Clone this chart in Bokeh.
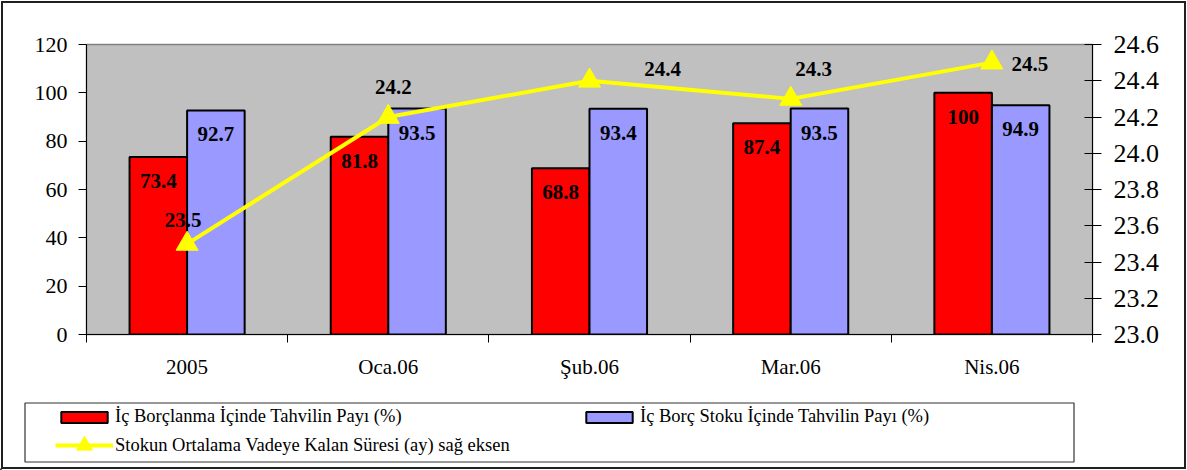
import numpy as np
from bokeh.plotting import figure
from bokeh.layouts import column
from bokeh.models import (Range1d, LinearAxis, FixedTicker, NumeralTickFormatter,
                          Legend, LegendItem, BoxAnnotation, ColumnDataSource)
from bokeh.core.properties import value
from bokeh.embed import file_html
from bokeh.resources import INLINE

# ---------------- data ----------------
categories = ["2005", "Oca.06", "Şub.06", "Mar.06", "Nis.06"]
ic_borclanma_payi = [73.4, 81.8, 68.8, 87.4, 100]
ic_borc_stoku_payi = [92.7, 93.5, 93.4, 93.5, 94.9]
kalan_sure = [23.5, 24.2, 24.4, 24.3, 24.5]
series_names = ["İç Borçlanma İçinde Tahvilin Payı (%)",
                "İç Borç Stoku İçinde Tahvilin Payı (%)",
                "Stokun Ortalama Vadeye Kalan Süresi (ay) sağ eksen"]
left_ticks = [0, 20, 40, 60, 80, 100, 120]
right_ticks = [23.0, 23.2, 23.4, 23.6, 23.8, 24.0, 24.2, 24.4, 24.6]

# label placement (pixel offsets) for the line's data labels
line_label_dx = [-4, 5, 73, 23, 38]
line_label_dy = [-24, -30, -12, -30, 1]

FONT = value("Liberation Serif")
BAR_W = 0.286
RED, BLUE, YELLOW = "#FF0000", "#9999FF", "#FFFF00"

W = 1187
H_MAIN, H_LEG = 388, 82

p = figure(width=W, height=H_MAIN, x_range=Range1d(0, len(categories)), y_range=Range1d(0, 120),
           output_backend="svg", toolbar_location=None, frame_align=False,
           min_border_left=86, min_border_right=95, min_border_top=44, min_border_bottom=54,
           background_fill_color="#C0C0C0", border_fill_color=None,
           outline_line_color="#808080", outline_line_width=1.5)
p.xgrid.visible = False
p.ygrid.visible = False
p.extra_y_ranges = {"right": Range1d(right_ticks[0], right_ticks[-1])}

centers = np.arange(len(categories)) + 0.5

src = ColumnDataSource(dict(
    xc=centers,
    xr=centers - BAR_W / 2,
    xb=centers + BAR_W / 2,
    red=ic_borclanma_payi,
    blue=ic_borc_stoku_payi,
    line=kalan_sure,
    red_txt=[f"{v:g}" for v in ic_borclanma_payi],
    blue_txt=[f"{v:g}" for v in ic_borc_stoku_payi],
    line_txt=[f"{v:.1f}" for v in kalan_sure],
    dx=line_label_dx,
    dy=line_label_dy,
))

p.vbar(x="xr", top="red", width=BAR_W, source=src,
       fill_color=RED, line_color="black", line_width=2)
p.vbar(x="xb", top="blue", width=BAR_W, source=src,
       fill_color=BLUE, line_color="black", line_width=2)

lbl = dict(text_font=FONT, text_font_style="bold", text_font_size="21px",
           text_align="center", text_baseline="middle", text_color="black")
p.text(x="xr", y="red", text="red_txt", source=src, y_offset=24, **lbl)
p.text(x="xb", y="blue", text="blue_txt", source=src, y_offset=24, **lbl)

p.line(x="xc", y="line", source=src, y_range_name="right",
       line_color=YELLOW, line_width=4)
p.scatter(x="xc", y="line", source=src, y_range_name="right",
          marker="triangle", size=22, fill_color=YELLOW, line_color=YELLOW)
p.text(x="xc", y="line", text="line_txt", source=src, y_range_name="right",
       x_offset="dx", y_offset="dy", **lbl)

# ---------------- axes ----------------
xa = p.xaxis[0]
xa.ticker = FixedTicker(ticks=list(centers), minor_ticks=list(range(len(categories) + 1)))
xa.major_label_overrides = {float(c): lab for c, lab in zip(centers, categories)}
xa.major_tick_in = 0
xa.major_tick_out = 0
xa.minor_tick_in = 0
xa.minor_tick_out = 8
xa.minor_tick_line_color = "black"
xa.axis_line_color = "black"
xa.major_label_standoff = 12
xa.major_label_text_font = "Liberation Serif"
xa.major_label_text_font_size = "21px"
xa.major_label_text_color = "black"

ya = p.yaxis[0]
ya.ticker = FixedTicker(ticks=left_ticks)
ya.major_tick_in = 0
ya.major_tick_out = 8
ya.minor_tick_line_color = None
ya.axis_line_color = "black"
ya.major_tick_line_color = "black"
ya.major_label_standoff = 11
ya.major_label_text_font = "Liberation Serif"
ya.major_label_text_font_size = "22px"
ya.major_label_text_color = "black"

ra = LinearAxis(y_range_name="right", ticker=FixedTicker(ticks=right_ticks),
                formatter=NumeralTickFormatter(format="0.0"))
ra.major_tick_in = 8
ra.major_tick_out = 9
ra.minor_tick_line_color = None
ra.axis_line_color = "black"
ra.major_tick_line_color = "black"
ra.major_label_standoff = 12
ra.major_label_text_font = "Liberation Serif"
ra.major_label_text_font_size = "26px"
ra.major_label_text_color = "black"
p.add_layout(ra, "right")

# ---------------- legend panel ----------------
p2 = figure(width=W, height=H_LEG, x_range=Range1d(0, W), y_range=Range1d(0, H_LEG),
            x_axis_location=None, y_axis_location=None, min_border=0,
            min_border_left=0, min_border_right=0, min_border_top=0, min_border_bottom=0,
            output_backend="svg", toolbar_location=None, frame_align=False,
            outline_line_color=None, background_fill_color=None, border_fill_color=None)
for g in p2.grid:
    g.visible = False

# legend-only renderers carrying the series styles (their single point lies off-canvas)
lr_red = p2.vbar(x=[-500], top=[1], width=1, fill_color=RED, line_color="black", line_width=2)
lr_blue = p2.vbar(x=[-500], top=[1], width=1, fill_color=BLUE, line_color="black", line_width=2)
lr_line = p2.line(x=[-500, -490], y=[1, 1], line_color=YELLOW, line_width=4)
lr_tri = p2.scatter(x=[-500], y=[1], marker="triangle", fill_color=YELLOW, line_color=YELLOW)

leg_common = dict(padding=0, margin=0, glyph_width=58, label_standoff=2,
                  label_text_font="Liberation Serif", label_text_font_size="18.5px",
                  label_text_color="black", border_line_color=None,
                  background_fill_alpha=0, orientation="horizontal", label_height=20)
legA = Legend(items=[LegendItem(label=series_names[0], renderers=[lr_red]),
                     LegendItem(label=series_names[1], renderers=[lr_blue])],
              location=(55, 43), spacing=4, glyph_height=14, label_width=461, **leg_common)
legB = Legend(items=[LegendItem(label=series_names[2], renderers=[lr_line, lr_tri])],
              location=(55, 5), spacing=4, glyph_height=40, **leg_common)
p2.add_layout(legA)
p2.add_layout(legB)

p2.add_layout(BoxAnnotation(left=24.5, right=1073.5, top=67.5, bottom=8.5,
                            fill_color=None, fill_alpha=0,
                            line_color="#333333", line_alpha=1.0, line_width=1.2,
                            level="overlay"))

layout = column(p, p2, spacing=0,
                styles={"outline": "2px solid #202020", "outline-offset": "-3px"})

open("out.html", "w").write(file_html(layout, INLINE))
